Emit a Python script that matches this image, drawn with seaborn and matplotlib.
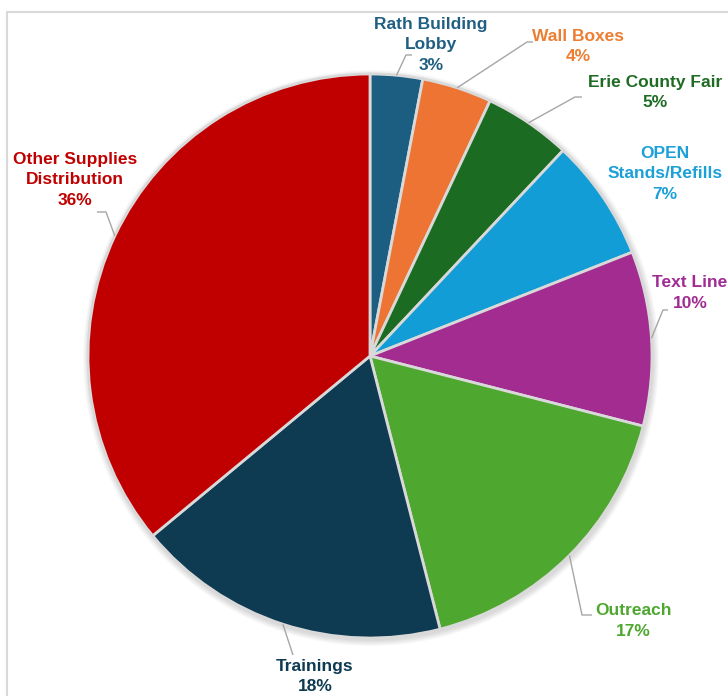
import numpy as np
import matplotlib
matplotlib.use("Agg")
import matplotlib.pyplot as plt
from matplotlib.patches import Rectangle, Circle
import seaborn as sns

# Share of activity by channel
categories = ["Rath Building\nLobby", "Wall Boxes", "Erie County Fair", "OPEN\nStands/Refills",
              "Text Line", "Outreach", "Trainings", "Other Supplies\nDistribution"]
shares = [3, 4, 5, 7, 10, 17, 18, 36]

slice_colors = ["#1B5E82", "#ED7433", "#1C6B22", "#129DD6",
                "#A22C90", "#4EA72E", "#0E3A52", "#C00000"]
text_colors = ["#1F5F82", "#ED7D31", "#1E6B23", "#1BA0D8",
               "#A02B93", "#4EA72E", "#0E3A52", "#C00000"]

# Label block centres and leader-line elbows (canvas pixels, y measured from the top)
label_pos = [(431, 45), (578, 46.5), (655, 92.5), (665, 174),
             (690, 293), (633, 621), (315, 676.5), (75, 180)]
elbows = [[(406, 55), (412, 55)], [(527, 42), (533, 42)], [(575, 97), (582, 97)], None,
          [(663, 310), (668, 310)], [(582, 615), (592, 615)], [(293, 655), (293, 655)],
          [(106, 212), (97, 212)]]

W, H = 728, 696
sns.set_theme(style="white")
plt.rcParams["font.family"] = ["Liberation Sans", "DejaVu Sans"]

fig = plt.figure(figsize=(W / 100, H / 100), dpi=100)
ax = fig.add_axes([0, 0, 1, 1])


def up(y):
    return H - y


cx, cy, r = 370, up(356), 282

# chart-area frame
ax.add_patch(Rectangle((7, -20), 800, up(12) + 20, fill=False,
                       edgecolor="#D9D9D9", lw=1.5, clip_on=False))

# soft shadow around the pie
for k in range(1, 7):
    ax.add_patch(Circle((cx + 1, cy - 2), r + k, color="#000000", alpha=0.025, lw=0, zorder=0))

wedges, _ = ax.pie(shares, colors=slice_colors, startangle=90, counterclock=False,
                   center=(cx, cy), radius=r, frame=True,
                   wedgeprops=dict(edgecolor="#D9D9D9", linewidth=2))
ax.set_xlim(0, W)
ax.set_ylim(0, H)
ax.set_axis_off()

for w, name, val, col, (lx, ly), elb in zip(wedges, categories, shares, text_colors, label_pos, elbows):
    ax.text(lx, up(ly), f"{name}\n{val}%", ha="center", va="center", color=col,
            fontsize=12.5, fontweight="bold", linespacing=1.42)
    if elb is None:
        continue
    mid = np.deg2rad((w.theta1 + w.theta2) / 2)
    ex, ey = cx + r * np.cos(mid), cy + r * np.sin(mid)
    xs = [ex] + [p[0] for p in elb]
    ys = [ey] + [up(p[1]) for p in elb]
    ax.plot(xs, ys, color="#A6A6A6", lw=1, solid_capstyle="butt")

fig.savefig("out.png", dpi=100)
